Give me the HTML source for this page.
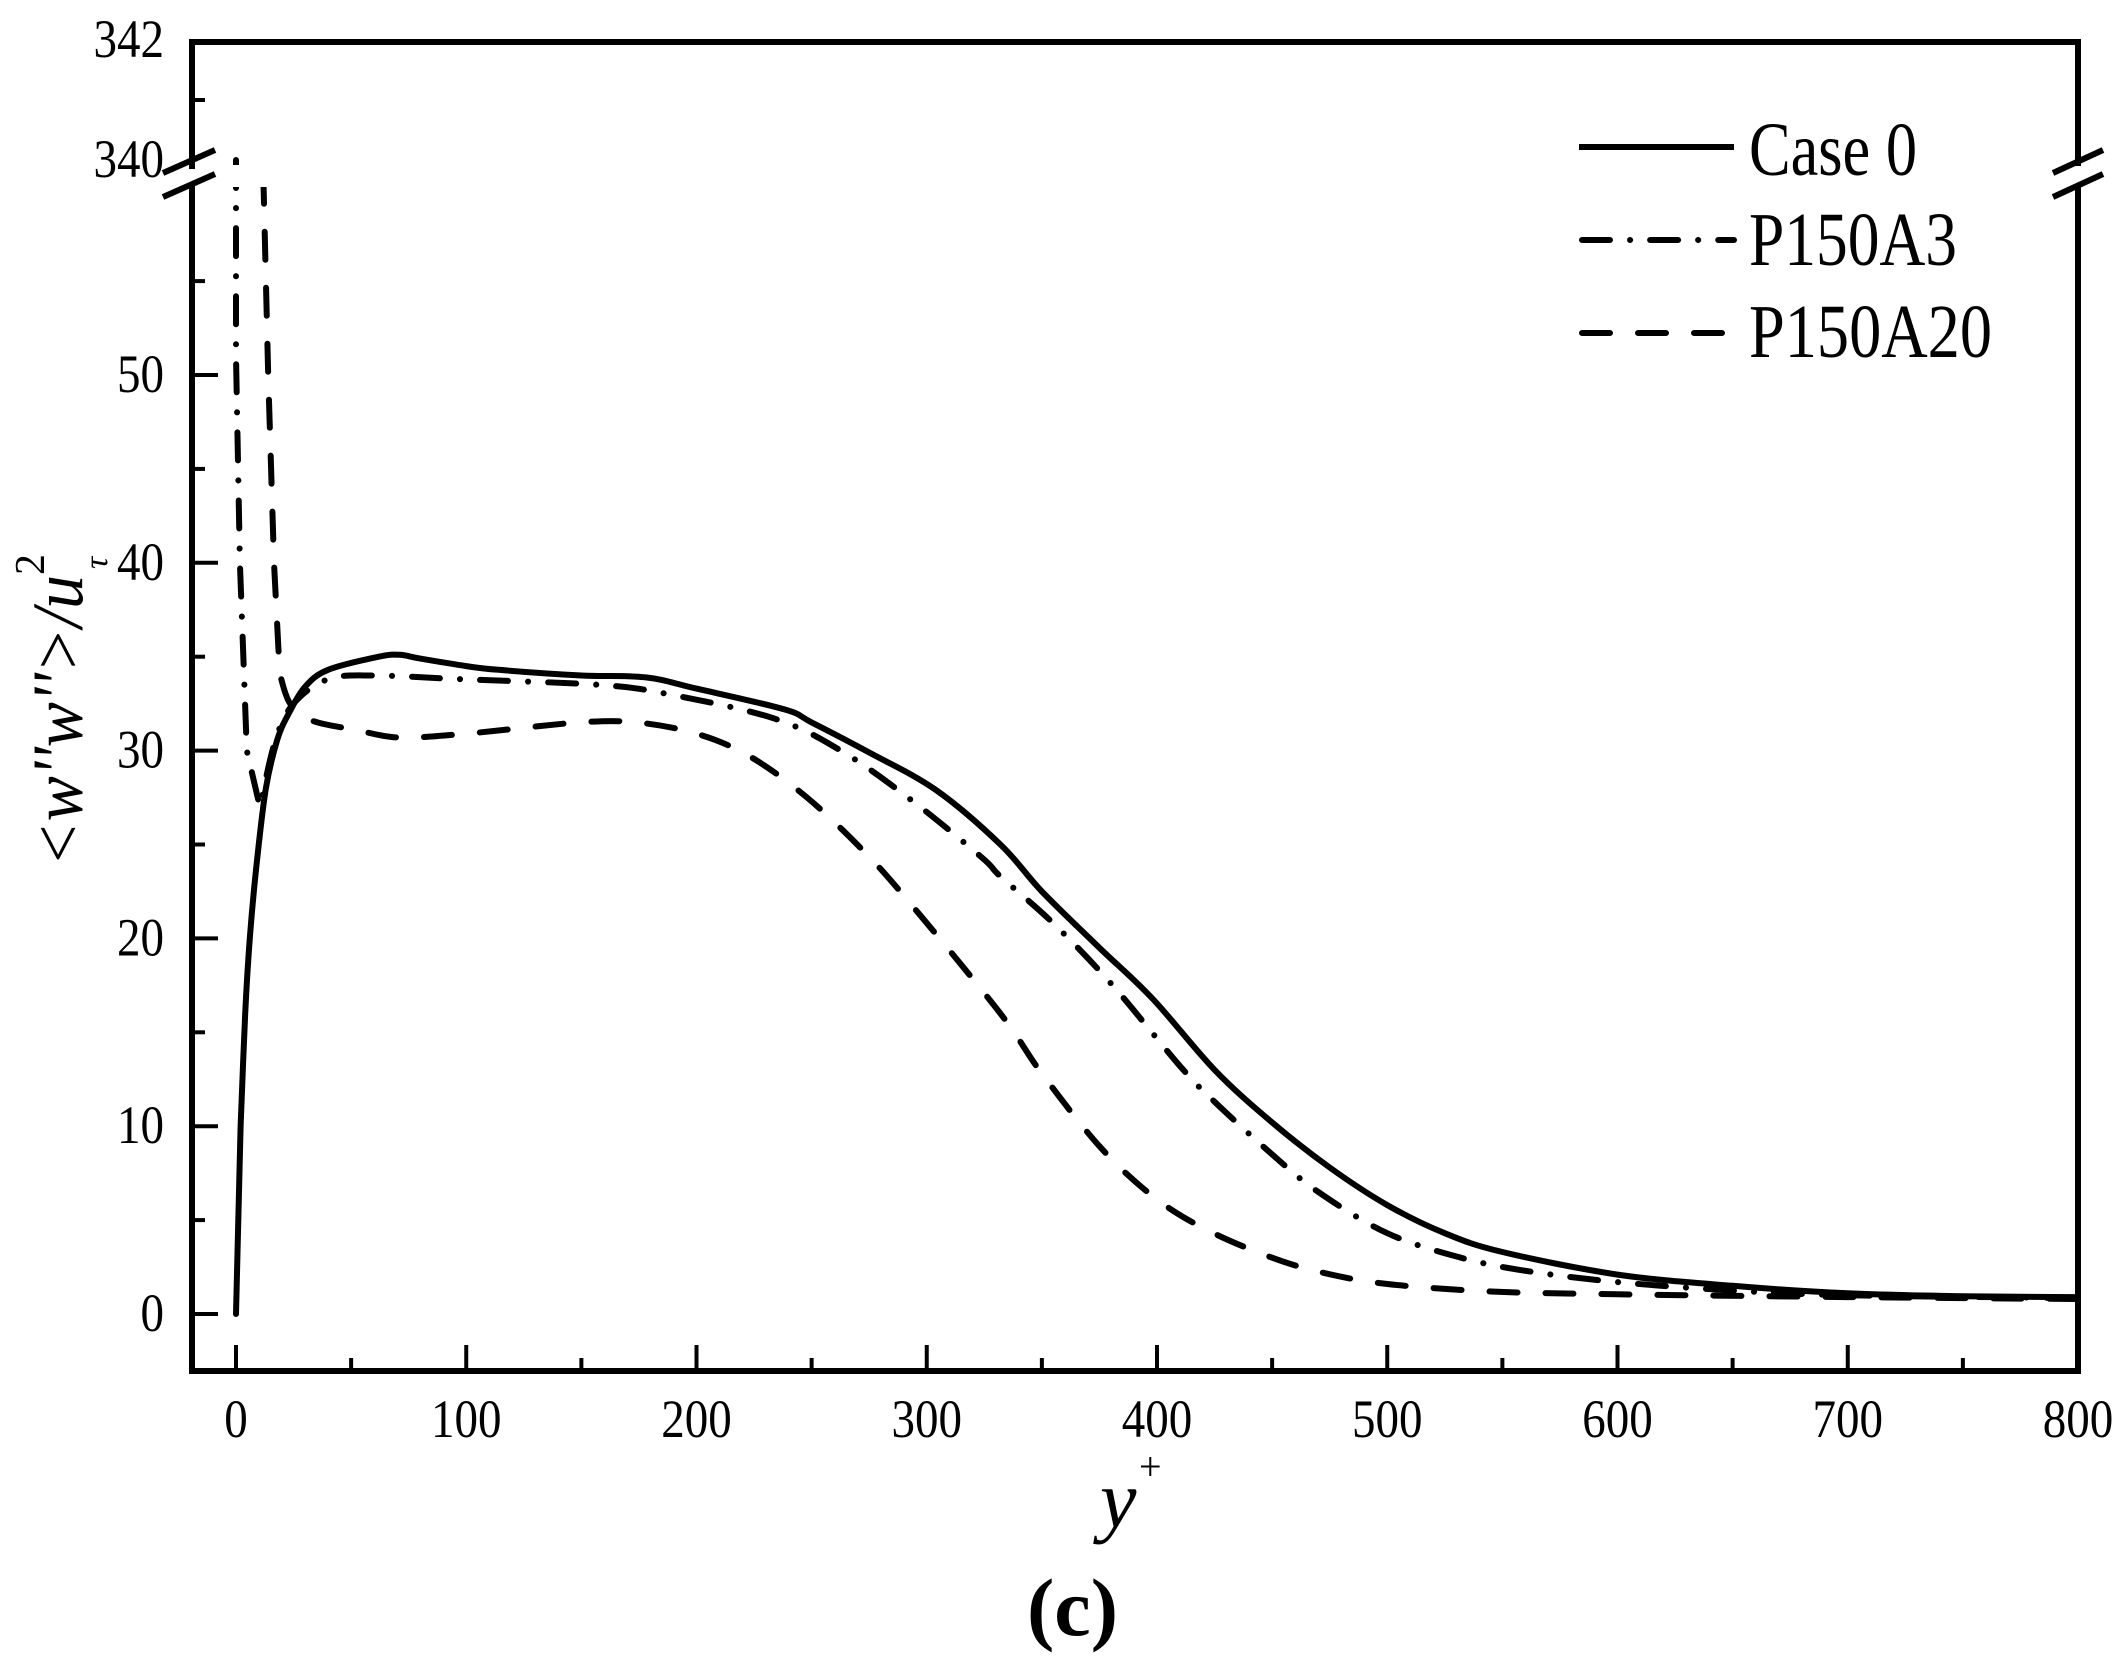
<!DOCTYPE html>
<html><head><meta charset="utf-8"><style>
html,body{margin:0;padding:0;background:#fff;}
svg{display:block;}
text{font-family:"Liberation Serif","DejaVu Serif",serif;fill:#000;}
</style></head><body>
<svg id="chart" width="2128" height="1666" viewBox="0 0 2128 1666" xmlns="http://www.w3.org/2000/svg">
<defs>
<clipPath id="clipLow"><rect x="193" y="187" width="1882" height="1182"/></clipPath>
<clipPath id="clipHigh"><rect x="193" y="43" width="1882" height="122"/></clipPath>
</defs>
<g id="axes"></g>
<g id="series"></g>
<g id="legend">
<line x1="1579" y1="147" x2="1734" y2="147" stroke="#000" stroke-width="6"/>
<text x="1749" y="175" font-size="76" textLength="168" lengthAdjust="spacingAndGlyphs">Case 0</text>
<line x1="1582" y1="240" x2="1734" y2="240" stroke="#000" stroke-width="6" stroke-linecap="round" stroke-dasharray="28 20 0.1 20"/>
<text x="1749" y="265" font-size="76" textLength="208" lengthAdjust="spacingAndGlyphs">P150A3</text>
<line x1="1582" y1="333" x2="1725" y2="333" stroke="#000" stroke-width="6" stroke-linecap="round" stroke-dasharray="28 28"/>
<text x="1749" y="357" font-size="76" textLength="243" lengthAdjust="spacingAndGlyphs">P150A20</text>
</g>
<g transform="translate(82,867) rotate(-90)">
<text x="0" y="0" font-size="72" font-style="italic" textLength="292" lengthAdjust="spacingAndGlyphs">&lt;w''w''&gt;/u</text>
<text x="298" y="25" font-size="34" font-style="italic">τ</text>
<text x="292" y="-38" font-size="42">2</text>
</g>
<g>
<text x="1100" y="1527" font-size="82" font-style="italic">y</text>
<text x="1139" y="1480" font-size="40">+</text>
</g>
<text x="1027" y="1635" font-size="82" font-weight="bold">(c)</text>
</svg>
<script>
const xTicks = [0,100,200,300,400,500,600,700,800];
const yTicksLow = [0,10,20,30,40,50];
const yTicksHigh = [340,342];
const case0X = [0,2,4,6,9,13,18,23,30,40,62,71,80,100,114,150,178,200,238,250,275,304,332,350,375,398,425,450,475,500,525,550,600,650,700,750,800];
const case0Y = [0,10,16,20,24,28,30.6,32,33.4,34.3,35,35.1,34.9,34.5,34.3,34.0,33.9,33.3,32.2,31.5,29.9,27.9,25.0,22.5,19.5,16.8,13.0,10.2,7.8,5.8,4.3,3.3,2.1,1.5,1.1,0.95,0.9];
const a3X = [0,0,1.7,4.7,10.4,17,25,40,60,98,158,188,234,264,294,324,332,355,380,410,425,450,470,500,532,560,600,650,700,800];
const a3Y = [340,51,40,30,27,30.5,32.5,33.8,34,33.8,33.5,33.0,31.7,29.9,27.3,24.3,23.3,20.8,17.6,13.2,11.3,8.5,6.5,4.3,3.0,2.3,1.7,1.25,1.0,0.85];
const a20X = [11,12,14,16.5,19,23.5,33,52,71,100,149,174,200,223,248,273,294,332,350,376,400,423,450,472,500,545,600,700,800];
const a20Y = [200,60,50,40,34.1,32.5,31.6,31.1,30.7,30.9,31.5,31.5,30.9,29.7,27.5,24.6,21.7,16,12.8,8.8,6.1,4.4,3.0,2.2,1.6,1.2,1.05,0.9,0.8];

const NS = "http://www.w3.org/2000/svg";
const X0 = 236, XS = 2.3025;
function xPos(v){ return X0 + v*XS; }
function yPos(v){
  if (v <= 60) return 1314 - v*18.78;
  if (v >= 340) return 160 - (v-340)*60;
  return 187 - (v-60)/(280)*22;
}
function mk(tag, attrs, parent){
  const e = document.createElementNS(NS, tag);
  for (const k in attrs) e.setAttribute(k, attrs[k]);
  parent.appendChild(e); return e;
}
const axes = document.getElementById('axes');
const L = 192, R = 2078, T = 42, B = 1371;
const st = {stroke:'#000','stroke-width':6,fill:'none'};
let e;
e = mk('path', Object.assign({d:`M${L},${T} L${R},${T} L${R},163 M${R},190 L${R},${B} L${L},${B} L${L},188 M${L},166 L${L},${T}`,'stroke-linecap':'square'}, st), axes);


e = mk('path', Object.assign({d:`M163,173 L215,150 M163,197 L215,174`}, st), axes);


e = mk('path', Object.assign({d:`M2053,173 L2103,150 M2053,197 L2103,174`}, st), axes);


for (let v = 0; v <= 800; v += 50) {
  const major = v % 100 === 0;
  const t = mk('line', {x1:xPos(v), x2:xPos(v), y1:B, y2:B-(major?26:13), stroke:'#000','stroke-width':4}, axes);
  
  
}
xTicks.forEach(v => {
  const s = String(v);
  const t = mk('text', {x:xPos(v), y:1437, 'font-size':54, 'text-anchor':'middle', textLength:23.5*s.length, lengthAdjust:'spacingAndGlyphs'}, axes);
  t.textContent = s;
  
  
});
for (let v = 0; v <= 55; v += 5) {
  const major = v % 10 === 0;
  const t = mk('line', {x1:L, x2:L+(major?26:13), y1:yPos(v), y2:yPos(v), stroke:'#000','stroke-width':4}, axes);
  
  
}
const t341 = mk('line', {x1:L, x2:L+13, y1:yPos(341), y2:yPos(341), stroke:'#000','stroke-width':4}, axes);


yTicksLow.concat(yTicksHigh).forEach(v => {
  const s = String(v);
  const t = mk('text', {x:164, y:yPos(v)+17, 'font-size':54, 'text-anchor':'end', textLength:23.5*s.length, lengthAdjust:'spacingAndGlyphs'}, axes);
  t.textContent = s;
  
  
});
const sg = document.getElementById('series');
function smoothPath(p){
  let d = `M${p[0][0].toFixed(1)},${p[0][1].toFixed(1)}`;
  for (let i = 0; i < p.length-1; i++) {
    const p0 = p[Math.max(0,i-1)], p1 = p[i], p2 = p[i+1], p3 = p[Math.min(p.length-1,i+2)];
    const c1x = p1[0]+(p2[0]-p0[0])/6, c1y = p1[1]+(p2[1]-p0[1])/6;
    const c2x = p2[0]-(p3[0]-p1[0])/6, c2y = p2[1]-(p3[1]-p1[1])/6;
    d += ` C${c1x.toFixed(1)},${c1y.toFixed(1)} ${c2x.toFixed(1)},${c2y.toFixed(1)} ${p2[0].toFixed(1)},${p2[1].toFixed(1)}`;
  }
  return d;
}
function drawSeries(xs, ys, name, dash, sharpUntil){
  const pts = xs.map((x,i)=> [xPos(x), yPos(ys[i])]);
  // straight segments for the near-wall spike, smooth thereafter
  const head = pts.slice(0, sharpUntil+1);
  const tail = pts.slice(sharpUntil);
  let d = 'M' + head.map(p=>p[0].toFixed(1)+','+p[1].toFixed(1)).join(' L');
  if (tail.length > 1) d += ' ' + smoothPath(tail).replace(/^M[^ ]+/, '');
  ['clipLow','clipHigh'].forEach(c => {
    const p = mk('path', {d:d, fill:'none', stroke:'#000', 'stroke-width':6, 'stroke-linejoin':'round', 'stroke-linecap':'round', 'clip-path':`url(#${c})`}, sg);
    if (dash) p.setAttribute('stroke-dasharray', dash);
    
    
  });
}
drawSeries(case0X, case0Y, 'line-case0', null, 1);
drawSeries(a3X, a3Y, 'line-p150a3', '28 20 0.1 20', 4);
drawSeries(a20X, a20Y, 'line-p150a20', '28 28', 4);
</script>
</body></html>
